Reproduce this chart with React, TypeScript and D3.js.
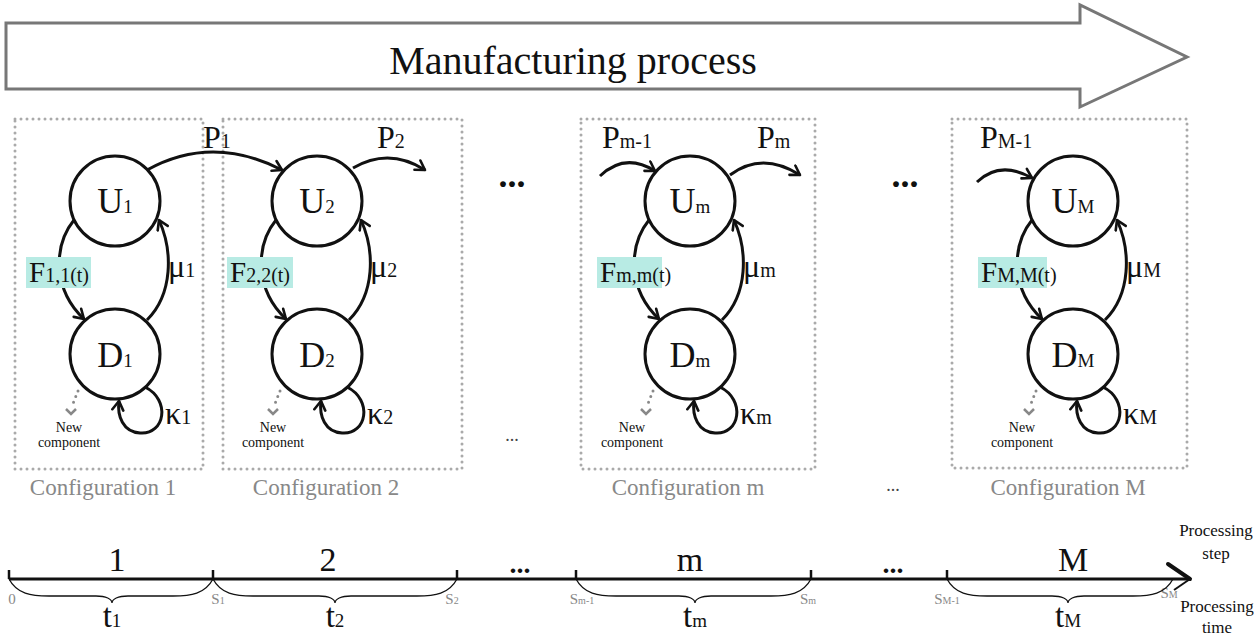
import React from 'react';
import * as d3 from 'd3';

// configuration subscripts and labels
const subs = ['1', '2', 'm', 'M'];
const fSubs = ['1,1(t)', '2,2(t)', 'm,m(t)', 'M,M(t)'];
const configLabels = ['Configuration 1', 'Configuration 2', 'Configuration m', 'Configuration M'];
// P arrows: label subscript and direction
const pArrows = [
  { sub: '1', kind: 'between' },
  { sub: '2', kind: 'out' },
  { sub: 'm-1', kind: 'in' },
  { sub: 'm', kind: 'out' },
  { sub: 'M-1', kind: 'in' },
];
// timeline
const stepLabels = ['1', '2', '...', 'm', '...', 'M'];
const markMain = ['0', 'S', 'S', 'S', 'S', 'S', 'S'];
const markSubs = ['', '1', '2', 'm-1', 'm', 'M-1', 'M'];
const durSubs = ['1', '2', 'm', 'M'];

// layout
const W = 1254;
const H = 637;
const FONT = '"Liberation Serif", "Times New Roman", serif';
const cxs = [115, 317, 690, 1073];
const uy = 201;
const dy = 354;
const R = 45;
const boxes = [
  [15, 119, 203, 469],
  [223, 119, 462, 469],
  [581, 119, 815, 469],
  [952, 119, 1187, 468],
];
const labelCx = [103, 326, 688, 1068];
const fRectW = [65, 66, 65, 69];
const fRectX = [-89, -90, -93, -95];
const newTextDx = [-46, -44, -58, -51];

const pPaths = [
  { from: [147, 170], ctrl: [212, 134], to: [282, 170], lx: 203 },
  { from: [353, 168], ctrl: [389, 147], to: [425, 170], lx: 377 },
  { from: [600, 176], ctrl: [625, 152], to: [655, 171], lx: 602 },
  { from: [730, 175], ctrl: [762, 151], to: [800, 175], lx: 757 },
  { from: [977, 182], ctrl: [1000, 160], to: [1032, 178], lx: 980 },
];

const tlY = 579;
const tickX = [9, 213, 457, 576, 811, 947];
const stepX = [117, 328, 520, 690, 893, 1073];
const markX = [12, 218, 452, 582, 808, 947, 1169];
const markY = [604, 604, 604, 604, 604, 604, 598];
const braces = [
  [9, 213, 112],
  [213, 457, 335],
  [576, 811, 695],
  [947, 1173, 1068],
];

const qPath = (a: number[], c: number[], b: number[]) => {
  const p = d3.path();
  p.moveTo(a[0], a[1]);
  p.quadraticCurveTo(c[0], c[1], b[0], b[1]);
  return p.toString();
};

const bracePath = (a: number, b: number, m: number) => {
  const p = d3.path();
  const y0 = tlY, y1 = 596, y2 = 603;
  p.moveTo(a, y0);
  p.bezierCurveTo(a + 8, y1 - 2, a + 22, y1, a + 40, y1);
  p.lineTo(m - 16, y1);
  p.bezierCurveTo(m - 6, y1, m, y1 + 3, m, y2);
  p.bezierCurveTo(m, y1 + 3, m + 6, y1, m + 16, y1);
  p.lineTo(b - 40, y1);
  p.bezierCurveTo(b - 22, y1, b - 8, y1 - 2, b, y0);
  return p.toString();
};

const Sub: React.FC<{ x: number; y: number; main: string; sub: string; size: number; subSize: number; anchor?: string; fill?: string }> = ({ x, y, main, sub, size, subSize, anchor = 'middle', fill = '#111' }) => (
  <text x={x} y={y} textAnchor={anchor} fontFamily={FONT} fill={fill}>
    <tspan fontSize={size}>{main}</tspan>
    <tspan fontSize={subSize}>{sub}</tspan>
  </text>
);

const App: React.FC = () => {
  const black = '#111';
  const arrowBody = [
    [6, 23], [1080, 23], [1080, 5], [1187, 57], [1080, 107], [1080, 89], [6, 89],
  ];
  return (
    <svg width={W} height={H} style={{ position: 'absolute', left: 0, top: 0, background: '#fff' }}>
      <defs>
        <marker id="ah" viewBox="0 0 14 14" refX="11" refY="7" markerWidth="14" markerHeight="14" orient="auto" markerUnits="userSpaceOnUse">
          <path d="M2,1.5 L11,7 L2,12.5" fill="none" stroke={black} strokeWidth={2.6} strokeLinecap="round" strokeLinejoin="round" />
        </marker>
      </defs>
      <rect width={W} height={H} fill="#fff" />

      {/* top process arrow */}
      <path d={d3.line()(arrowBody as [number, number][]) + 'Z'} fill="#fff" stroke="#777" strokeWidth={3} />
      <text x={573} y={74} textAnchor="middle" fontFamily={FONT} fontSize={40} fill={black}>Manufacturing process</text>

      {/* configuration boxes */}
      {boxes.map((b, i) => (
        <rect key={'box' + i} x={b[0]} y={b[1]} width={b[2] - b[0]} height={b[3] - b[1]} fill="none" stroke="#aaa" strokeWidth={3} strokeDasharray="0 6" strokeLinecap="round" />
      ))}
      {configLabels.map((l, i) => (
        <text key={'cl' + i} x={labelCx[i]} y={495} textAnchor="middle" fontFamily={FONT} fontSize={23} fill="#888">{l}</text>
      ))}

      {subs.map((s, i) => {
        const cx = cxs[i];
        return (
          <g key={'cfg' + i}>
            <circle cx={cx} cy={uy} r={R} fill="#fff" stroke={black} strokeWidth={3} />
            <circle cx={cx} cy={dy} r={R} fill="#fff" stroke={black} strokeWidth={3} />
            <Sub x={cx} y={uy + 12} main="U" sub={s} size={36} subSize={19} />
            <Sub x={cx} y={dy + 13} main="D" sub={s} size={36} subSize={19} />
            {/* failure arc */}
            <path d={`M${cx - 41},${uy + 19} C${cx - 62},${uy + 45} ${cx - 62},${dy - 64} ${cx - 31},${dy - 35}`} fill="none" stroke={black} strokeWidth={3} markerEnd="url(#ah)" />
            {/* repair arc */}
            <path d={`M${cx + 32},${dy - 34} C${cx + 58},${dy - 60} ${cx + 58},${uy + 50} ${cx + 44},${uy + 19}`} fill="none" stroke={black} strokeWidth={3} markerEnd="url(#ah)" />
            {/* self loop */}
            <path d={`M${cx + 30},${dy + 33} C${cx + 56},${dy + 46} ${cx + 50},${dy + 81} ${cx + 25},${dy + 79} C${cx + 8},${dy + 78} ${cx + 2},${dy + 62} ${cx + 4},${dy + 47}`} fill="none" stroke={black} strokeWidth={3} markerEnd="url(#ah)" />
            <rect x={cx + fRectX[i]} y={257} width={fRectW[i]} height={31} fill="#b8ebe4" />
            <Sub x={cx + fRectX[i] + 3} y={282} main="F" sub={fSubs[i]} size={29} subSize={20} anchor="start" />
            <Sub x={cx + 53} y={277} main="μ" sub={s} size={32} subSize={20} anchor="start" />
            <Sub x={cx + 50} y={424} main="κ" sub={s} size={32} subSize={20} anchor="start" />
            {/* new component */}
            <line x1={cx - 37} y1={dy + 37} x2={cx - 43} y2={dy + 52} stroke="#888" strokeWidth={3} strokeDasharray="0 6" strokeLinecap="round" />
            <path d={`M${cx - 49},${dy + 55} L${cx - 44},${dy + 60} L${cx - 39},${dy + 55}`} fill="none" stroke="#888" strokeWidth={2.5} />
            <text x={cx + newTextDx[i]} y={432} textAnchor="middle" fontFamily={FONT} fontSize={14} fill={black}>New</text>
            <text x={cx + newTextDx[i]} y={447} textAnchor="middle" fontFamily={FONT} fontSize={14} fill={black}>component</text>
          </g>
        );
      })}

      {/* P arrows */}
      {pArrows.map((p, i) => {
        const g = pPaths[i];
        return (
          <g key={'p' + i}>
            <path d={qPath(g.from, g.ctrl, g.to)} fill="none" stroke={black} strokeWidth={3} markerEnd="url(#ah)" />
            <Sub x={g.lx} y={148} main="P" sub={p.sub} size={32} subSize={20} anchor="start" />
          </g>
        );
      })}

      {/* ellipses between configurations */}
      <text x={512} y={187} textAnchor="middle" fontFamily={FONT} fontSize={36} fontWeight="bold" fill={black}>...</text>
      <text x={905} y={187} textAnchor="middle" fontFamily={FONT} fontSize={36} fontWeight="bold" fill={black}>...</text>
      <text x={512} y={441} textAnchor="middle" fontFamily={FONT} fontSize={18} fill="#444">...</text>
      <text x={893} y={491} textAnchor="middle" fontFamily={FONT} fontSize={18} fill="#444">...</text>

      {/* timeline */}
      <line x1={9} y1={tlY} x2={1189} y2={tlY} stroke={black} strokeWidth={3} />
      <line x1={1168} y1={564} x2={1190} y2={tlY} stroke={black} strokeWidth={4} strokeLinecap="round" />
      <line x1={1190} y1={tlY} x2={1174} y2={590} stroke={black} strokeWidth={2} />
      {tickX.map((x, i) => (
        <line key={'t' + i} x1={x} y1={tlY} x2={x} y2={570} stroke={black} strokeWidth={2.5} />
      ))}
      {stepLabels.map((l, i) => (
        <text key={'s' + i} x={stepX[i]} y={l === '...' ? 573 : 571} textAnchor="middle" fontFamily={FONT} fontSize={l === '...' ? 28 : 34} fontWeight={l === '...' ? 'bold' : 'normal'} fill={black}>{l}</text>
      ))}
      {markMain.map((m, i) => (
        <Sub key={'m' + i} x={markX[i]} y={markY[i]} main={m} sub={markSubs[i]} size={15} subSize={10} fill="#888" />
      ))}
      {braces.map((b, i) => (
        <g key={'b' + i}>
          <path d={bracePath(b[0], b[1], b[2])} fill="none" stroke={black} strokeWidth={1.3} />
          <Sub x={b[2]} y={627} main="t" sub={durSubs[i]} size={33} subSize={19} />
        </g>
      ))}
      <text x={1216} y={536} textAnchor="middle" fontFamily={FONT} fontSize={17} fill={black}>Processing</text>
      <text x={1216} y={559} textAnchor="middle" fontFamily={FONT} fontSize={17} fill={black}>step</text>
      <text x={1217} y={612} textAnchor="middle" fontFamily={FONT} fontSize={17} fill={black}>Processing</text>
      <text x={1217} y={633} textAnchor="middle" fontFamily={FONT} fontSize={17} fill={black}>time</text>
    </svg>
  );
};

export default App;
